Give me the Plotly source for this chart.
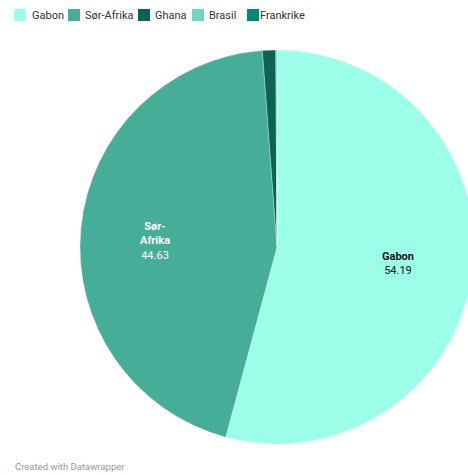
import math
import plotly.graph_objects as go

labels = ["Gabon", "Sør-Afrika", "Ghana", "Brasil", "Frankrike"]
values = [54.19, 44.63, 1.08, 0.06, 0.04]
colors = ["#9cffe9", "#45ad98", "#0b6353", "#6fd6bf", "#008a76"]
label_names = ["Gabon", "Sør-<br>Afrika", "", "", ""]
value_text = ["54.19", "44.63", "", "", ""]
text_colors = ["#111111", "#ffffff", "#ffffff", "#ffffff", "#ffffff"]

W, H = 478, 475          # figure is slightly wider than the 468px window; the pie bleeds off the right edge
CX, CY, R = 277, 247, 197  # pie centre / radius in px
# legend item left edges (px) and text starts
legend_sq = [14, 68, 138, 192, 247]
legend_tx = [30, 83, 153, 207, 258]

fig = go.Figure()
fig.add_trace(go.Pie(
    labels=labels, values=values, sort=False, direction="clockwise", rotation=0,
    marker=dict(colors=colors, line=dict(color="rgba(255,255,255,0.6)", width=0.5)),
    textinfo="none", hoverinfo="skip", showlegend=False,
    domain=dict(x=[(CX - R) / W, (CX + R) / W], y=[1 - (CY + R) / H, 1 - (CY - R) / H]),
))

shapes = []
annotations = []
for lab, col, x0, xt in zip(labels, colors, legend_sq, legend_tx):
    shapes.append(dict(type="rect", xref="paper", yref="paper",
                       x0=x0 / W, x1=(x0 + 12) / W, y0=1 - 21 / H, y1=1 - 9 / H,
                       fillcolor=col, line=dict(width=0)))
    annotations.append(dict(text=lab, x=xt / W, y=1 - 15.5 / H, xref="paper", yref="paper",
                            xanchor="left", yanchor="middle", showarrow=False,
                            font=dict(family="Roboto", size=11, color="#333333")))

# slice labels placed along each slice's bisector
total = sum(values)
cum = 0.0
for name, val, vt, tc in zip(label_names, values, value_text, text_colors):
    mid = (cum + val / 2) / total * 2 * math.pi
    cum += val
    if not name:
        continue
    rr = 0.62 * R
    px = CX + rr * math.sin(mid)
    py = CY - rr * math.cos(mid) + (6 if "<br>" in name else 0)
    annotations.append(dict(text=f"<b>{name}</b><br>{vt}", x=px / W, y=1 - py / H,
                            xref="paper", yref="paper", xanchor="center", yanchor="middle",
                            showarrow=False, align="center",
                            font=dict(family="Roboto", size=11, color=tc)))

annotations.append(dict(text="Created with Datawrapper", x=13 / W, y=1 - 466 / H, xref="paper", yref="paper",
                        xanchor="left", yanchor="middle", showarrow=False,
                        font=dict(family="Roboto", size=9.5, color="#999999")))

fig.update_layout(
    width=W, height=H, margin=dict(l=0, r=0, t=0, b=0, autoexpand=False),
    paper_bgcolor="white", plot_bgcolor="white",
    font=dict(family="Roboto", color="#333333"),
    showlegend=False,
    shapes=shapes, annotations=annotations,
)
fig.write_html("out.html", config={"displayModeBar": False, "staticPlot": True},
               post_script="document.body.style.margin='0';document.body.style.overflow='hidden';"
                           "document.documentElement.style.overflow='hidden';")
